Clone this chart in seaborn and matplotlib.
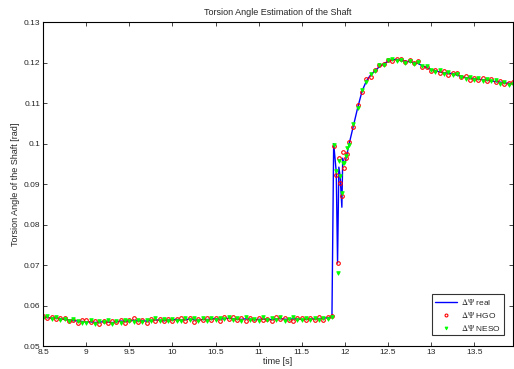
import numpy as np
import pandas as pd
import matplotlib
matplotlib.use("Agg")
import matplotlib.pyplot as plt
import seaborn as sns

# time grid: steady part, transient, settling part
t_steady = np.round(np.arange(8.50, 11.851, 0.05), 3)
t_trans = [11.87, 11.90, 11.915, 11.93, 11.945, 11.965, 11.975, 11.99, 12.01, 12.03]
t_settle = np.round(np.arange(12.05, 13.951, 0.05), 3)

# real torsion angle, units of 1e-5 rad
real_steady = [5720, 5705, 5690, 5700, 5675, 5660, 5650, 5635, 5620, 5610,
               5595, 5600, 5585, 5590, 5605, 5595, 5580, 5600, 5620, 5610,
               5625, 5640, 5620, 5635, 5615, 5630, 5650, 5640, 5625, 5645,
               5650, 5660, 5640, 5655, 5670, 5650, 5640, 5660, 5655, 5670,
               5680, 5665, 5675, 5690, 5680, 5665, 5660, 5675, 5665, 5650,
               5660, 5670, 5665, 5655, 5670, 5680, 5665, 5660, 5675, 5670,
               5660, 5665, 5675, 5670, 5680, 5690, 5700, 5720]
real_trans = [10000, 9300, 7050, 9420, 9200, 8430, 9640, 9500, 9600, 9800]
real_settle = [10000, 10450, 10900, 11300, 11550, 11700, 11800, 11900, 11970, 12030,
               12070, 12080, 12050, 12040, 12020, 12000, 11980, 11920, 11880, 11830,
               11800, 11770, 11750, 11740, 11730, 11690, 11660, 11630, 11620, 11600,
               11590, 11580, 11570, 11550, 11530, 11520, 11500, 11490, 11480]

# observer estimates, deviation from real (1e-5 rad)
hgo_dev = [30, -20, 40, -35, 10, 45, -30, 20, -45, 25,
           60, -10, 35, -40, 15, -25, 50, -15, 30, -50,
           20, 45, -30, 10, -55, 35, -20, 40, -10, 25,
           -35, 15, 50, -25, 30, -45, 20, -15, 40, -30,
           10, -40, 35, -20, 45, -10, 25, -50, 30, -15,
           40, -25, 15, -35, 50, -20, 30, -10, -45, 25,
           35, -30, 20, -15, 45, -40, 10, 30,
           -50, -70, 0, 220, -170, 270, 160, -100, 50, -50,
           40, -30, 60, -20, 35, -45, 25, 50, -15, 30,
           -40, 20, 45, -25, 35, -10, 50, -30, 20, -45,
           30, -20, 40, -35, 15, 45, -25, 30, -40, 20,
           -15, 35, -30, 45, -20, 25, -35, 15, 30]
neso_dev = [-25, 40, -15, 30, -40, 20, -35, 45, 10, -30,
            -20, 35, -45, 25, -10, 40, -30, 15, -40, 35,
            -15, -35, 25, -40, 30, -20, 45, -25, 35, -15,
            20, -40, -15, 35, -20, 40, -30, 25, -35, 15,
            -25, 30, -15, 40, -30, 20, -45, 35, -10, 25,
            -30, 45, -20, 30, -15, 40, -35, 20, 35, -25,
            -20, 40, -30, 25, -35, 15, -20, -10,
            -30, 20, -250, 150, 0, 350, -120, 20, 100, 80,
            -35, 45, -20, 30, -40, 25, -15, 35, -30, 40,
            20, -35, 15, -40, 30, -25, 45, -15, 35, -20,
            -30, 40, -25, 20, -45, 30, -10, -35, 25, -20,
            40, -25, 30, -15, 35, -40, 20, -30, -10]

xticks = [8.5, 9, 9.5, 10, 10.5, 11, 11.5, 12, 12.5, 13, 13.5]
xticklabels = ["8.5", "9", "9.5", "10", "10.5", "11", "11.5", "12", "12.5", "13", "13.5"]
yticks = [0.05, 0.06, 0.07, 0.08, 0.09, 0.10, 0.11, 0.12, 0.13]
yticklabels = ["0.05", "0.06", "0.07", "0.08", "0.09", "0.1", "0.11", "0.12", "0.13"]

time = np.concatenate([t_steady, t_trans, t_settle])
real = np.array(real_steady + real_trans + real_settle) * 1e-5
df = pd.DataFrame({
    "t": time,
    "real": real,
    "hgo": real + np.array(hgo_dev) * 1e-5,
    "neso": real + np.array(neso_dev) * 1e-5,
})

sns.set_style("ticks")
plt.rcParams["font.family"] = ["Liberation Sans", "DejaVu Sans"]
plt.rcParams["mathtext.fontset"] = "stix"
plt.rcParams["xtick.direction"] = "in"
plt.rcParams["ytick.direction"] = "in"

fig = plt.figure(figsize=(5.14, 3.69), dpi=100)
ax = fig.add_axes([0.084, 0.062, 0.914, 0.878])

sns.lineplot(data=df, x="t", y="real", ax=ax, color="#0000ff", lw=1.0,
             estimator=None, label=r"$\Delta\Psi$ real")
sns.lineplot(data=df, x="t", y="hgo", ax=ax, estimator=None, ls="none",
             marker="o", markersize=2.6, markerfacecolor="none",
             markeredgecolor="#ff0000", markeredgewidth=0.8, color="#ff0000",
             label=r"$\Delta\Psi$ HGO")
sns.lineplot(data=df, x="t", y="neso", ax=ax, estimator=None, ls="none",
             marker="v", markersize=2.6, markerfacecolor="#00ff00",
             markeredgecolor="#00ff00", markeredgewidth=0.6, color="#00ff00",
             label=r"$\Delta\Psi$ NESO")

ax.set_xlim(8.5, 13.95)
ax.set_ylim(0.05, 0.13)
ax.set_xticks(xticks)
ax.set_xticklabels(xticklabels, fontsize=6)
ax.set_yticks(yticks)
ax.set_yticklabels(yticklabels, fontsize=6)
ax.tick_params(top=True, right=True, length=3, width=0.6, pad=2)
for s in ax.spines.values():
    s.set_linewidth(0.8)
    s.set_color("black")

ax.set_title("Torsion Angle Estimation of the Shaft", fontsize=6.5, pad=5)
ax.set_xlabel("time [s]", fontsize=6.5, labelpad=1)
ax.set_ylabel("Torsion Angle of the Shaft [rad]", fontsize=6.5, labelpad=3)

leg = ax.legend(loc="lower right", fontsize=6, frameon=True, fancybox=False,
                edgecolor="black", borderpad=0.35, handlelength=2.6,
                handletextpad=0.5, labelspacing=0.35, markerscale=0.8,
                bbox_to_anchor=(0.99, 0.02))
leg.get_frame().set_linewidth(0.8)

fig.savefig("out.png", dpi=100)
